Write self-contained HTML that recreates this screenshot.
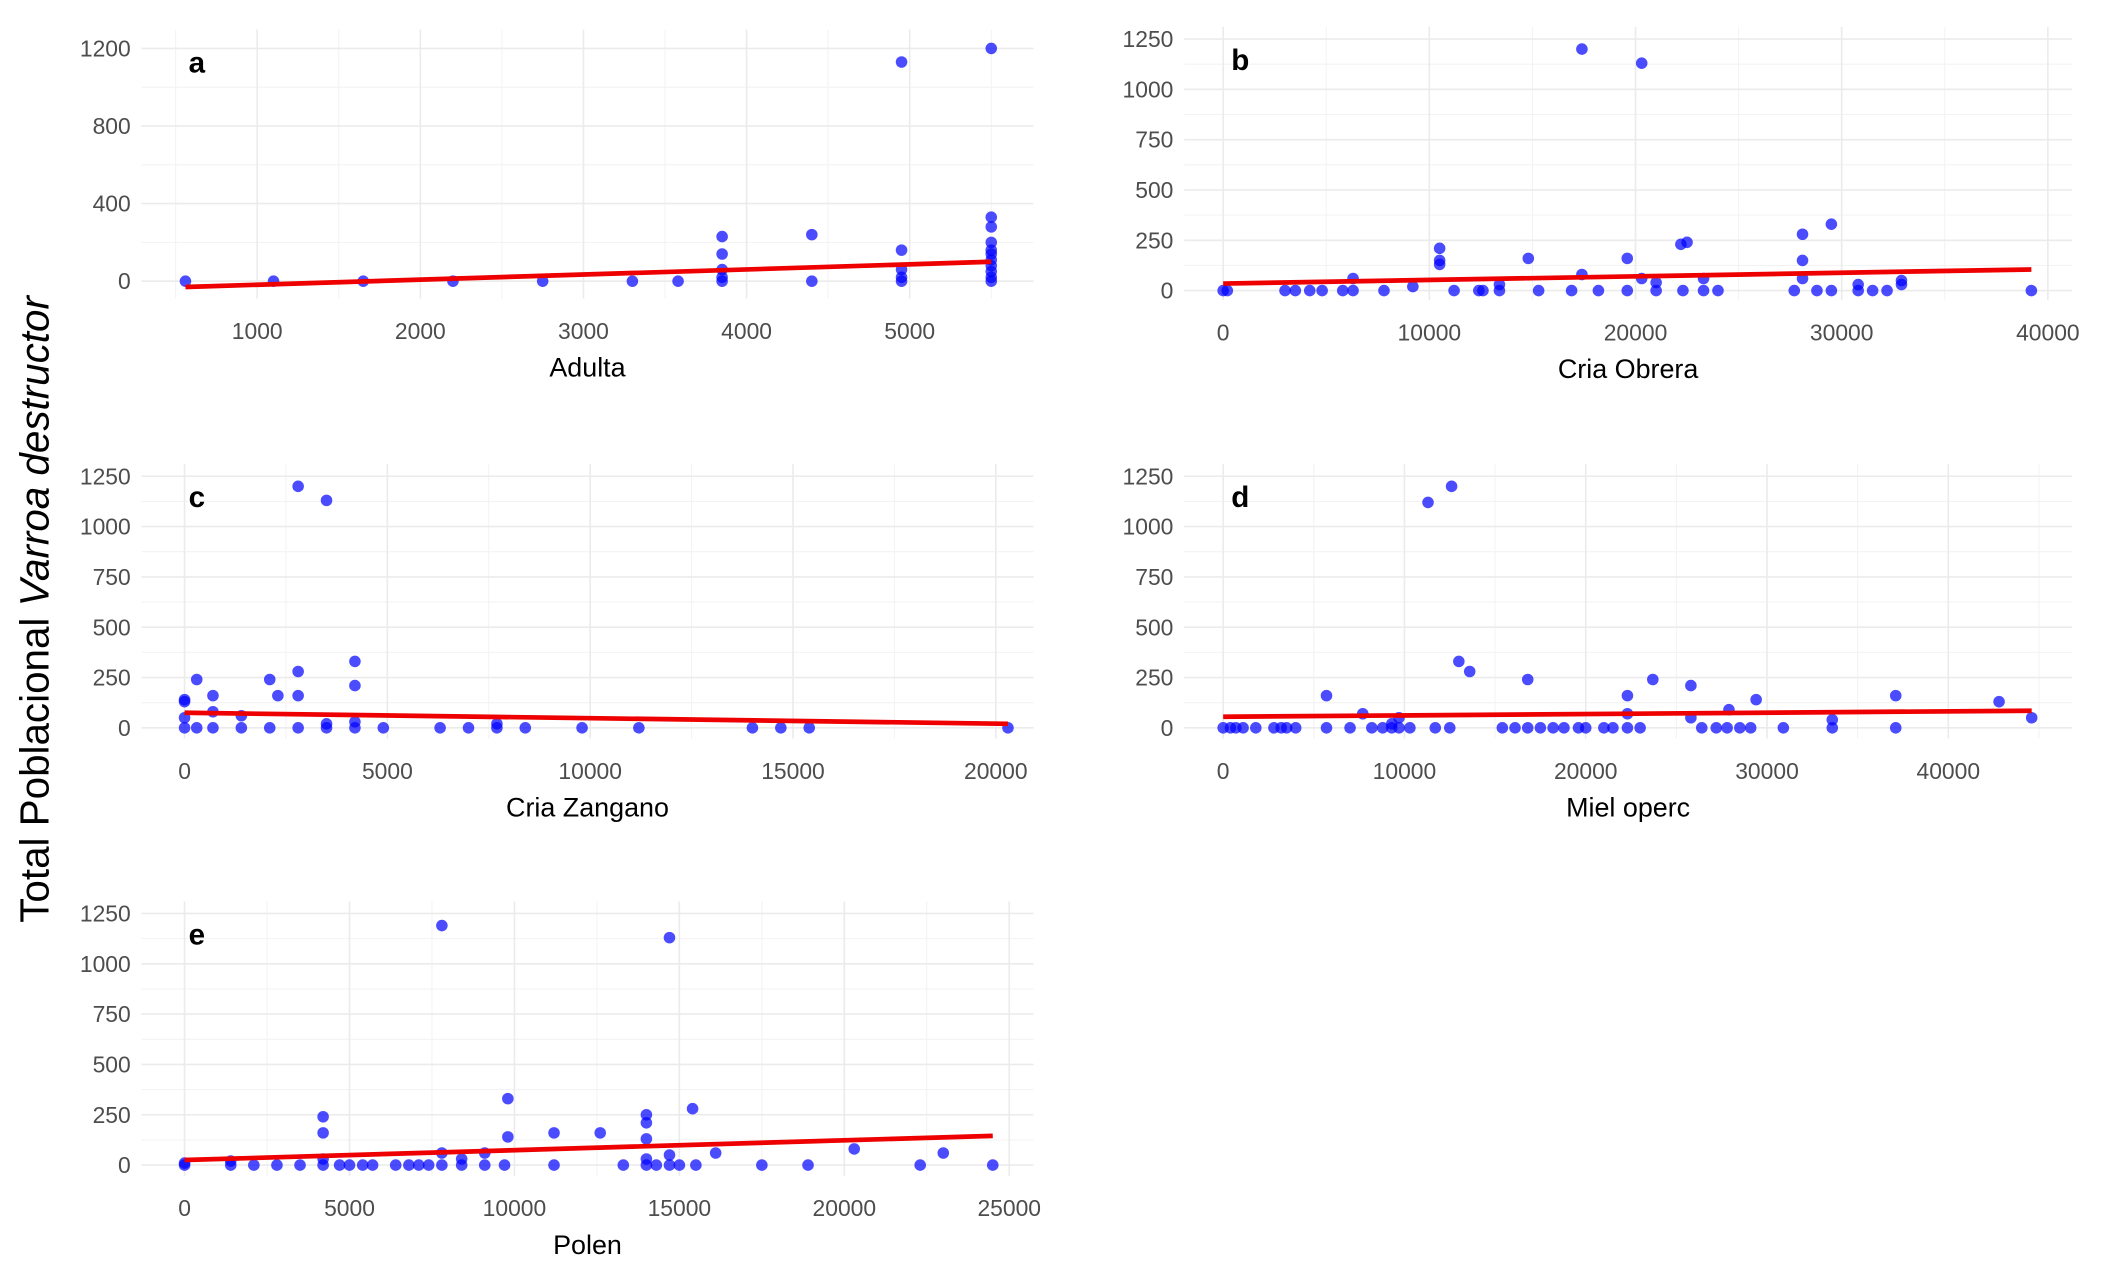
<!DOCTYPE html>
<html><head><meta charset="utf-8"><style>
html,body{margin:0;padding:0;background:#fff;}
svg{display:block;}
text{font-family:"Liberation Sans",sans-serif;}
</style></head><body>
<svg id="chart" width="2110" height="1270" viewBox="0 0 1568 944" xmlns="http://www.w3.org/2000/svg">
<text transform="translate(36,453) rotate(-90)" text-anchor="middle" font-size="30" fill="#000">Total Poblacional <tspan font-style="italic">Varroa destructor</tspan></text>
</svg>
<script>
// Panel a - Adulta
const aX=[560,1100,1650,2200,2750,3300,3580,3850,3850,3850,3850,3850,4400,4400,4950,4950,4950,4950,4950,5500,5500,5500,5500,5500,5500,5500,5500,5500,5500,5500];
const aY=[0,0,0,0,0,0,0,0,20,60,140,230,0,240,0,20,60,160,1130,0,20,50,80,110,140,160,200,280,330,1200];
const aFit=[[560,-30],[5500,100]];
// Panel b - Cria Obrera
const bX=[0,200,3000,3500,4200,4800,5800,6300,6300,7800,9200,10500,10500,10500,11200,12400,12600,13400,13400,14800,15300,16900,17400,17400,18200,19600,19600,20300,20300,21000,21000,22300,22200,22500,23300,23300,24000,27700,28100,28100,28100,28800,29500,29500,30800,30800,31500,32200,32900,32900,39200];
const bY=[0,0,0,0,0,0,0,0,60,0,20,130,150,210,0,0,0,0,30,160,0,0,80,1200,0,0,160,60,1130,0,40,0,230,240,0,60,0,0,60,150,280,0,0,330,0,30,0,0,30,50,0];
const bFit=[[0,35],[39200,105]];
// Panel c - Cria Zangano
const cX=[0,0,0,0,300,300,700,700,700,1400,1400,2100,2100,2300,2800,2800,2800,2800,3500,3500,3500,4200,4200,4200,4200,4900,6300,7000,7700,7700,8400,9800,11200,14000,14700,15400,20300];
const cY=[0,50,130,140,240,0,0,80,160,0,60,0,240,160,280,160,1200,0,0,20,1130,0,210,330,30,0,0,0,0,20,0,0,0,0,0,0,0];
const cFit=[[0,75],[20300,20]];
// Panel d - Miel operc
const dX=[0,400,700,1100,1800,2800,3200,3500,4000,5700,7000,8200,8800,9300,9300,9700,10300,11700,12500,15400,16100,16800,17500,18200,18800,19600,20000,21000,21500,22300,23000,26400,27200,27800,28500,29100,30900,33600,37100,5700,7700,9700,11300,12600,13000,13600,16800,22300,22300,23700,25800,25800,27900,29400,33600,37100,42800,44600];
const dY=[0,0,0,0,0,0,0,0,0,0,0,0,0,0,20,0,0,0,0,0,0,0,0,0,0,0,0,0,0,0,0,0,0,0,0,0,0,0,0,160,70,50,1120,1200,330,280,240,160,70,240,210,50,90,140,40,160,130,50];
const dFit=[[0,55],[44600,85]];
// Panel e - Polen
const eX=[0,1400,2100,2800,3500,4200,4700,5000,5400,5700,6400,6800,7100,7400,7800,8400,9100,9700,11200,13300,14000,14300,14700,15000,15500,17500,18900,22300,24500,0,1400,4200,4200,4200,7800,7800,8400,9100,9800,9800,11200,12600,14000,14000,14000,14000,14700,14700,15400,16100,20300,23000];
const eY=[0,0,0,0,0,0,0,0,0,0,0,0,0,0,0,0,0,0,0,0,0,0,0,0,0,0,0,0,0,10,20,30,160,240,60,1190,30,60,140,330,160,160,250,210,130,30,50,1130,280,60,80,60];
const eFit=[[0,25],[24500,145]];
const aXT=[1000,2000,3000,4000,5000], aYT=[0,400,800,1200];
const bXT=[0,10000,20000,30000,40000], bYT=[0,250,500,750,1000,1250];
const cXT=[0,5000,10000,15000,20000], dXT=[0,10000,20000,30000,40000], eXT=[0,5000,10000,15000,20000,25000];

const NS='http://www.w3.org/2000/svg';
const svg=document.getElementById('chart');
function mk(tag,attrs,parent){const e=document.createElementNS(NS,tag);for(const k in attrs)e.setAttribute(k,attrs[k]);(parent||svg).appendChild(e);return e;}

function panel(id,letter,title,X,Y,fit,xt,yt,box,xmap,ymap){
  const g=mk('g',{});
  
  
  const sx=v=>xmap[1]+(v-xmap[0])*(xmap[3]-xmap[1])/(xmap[2]-xmap[0]);
  const sy=v=>ymap[1]+(v-ymap[0])*(ymap[3]-ymap[1])/(ymap[2]-ymap[0]);
  const xs=xt[1]-xt[0], ys=yt[1]-yt[0];
  for(let v=xt[0]-xs/2; v<=xt[xt.length-1]+xs/2; v+=xs){const p=sx(v); if(p<box[0]||p>box[2])continue; mk('line',{x1:p,x2:p,y1:box[1],y2:box[3],stroke:'#f3f3f3','stroke-width':0.8},g);}
  for(let v=yt[0]-ys/2; v<=yt[yt.length-1]+ys/2; v+=ys){const p=sy(v); if(p<box[1]||p>box[3])continue; mk('line',{x1:box[0],x2:box[2],y1:p,y2:p,stroke:'#f3f3f3','stroke-width':0.8},g);}
  xt.forEach(v=>{const p=sx(v);mk('line',{x1:p,x2:p,y1:box[1],y2:box[3],stroke:'#ebebeb','stroke-width':1.2},g);
    const t=mk('text',{x:p,y:box[3]+30,'text-anchor':'middle','font-size':17,fill:'#4d4d4d'},g);t.textContent=v;
    
    });
  yt.forEach(v=>{const p=sy(v);mk('line',{x1:box[0],x2:box[2],y1:p,y2:p,stroke:'#ebebeb','stroke-width':1.2},g);
    const t=mk('text',{x:box[0]-8,y:p+6,'text-anchor':'end','font-size':17,fill:'#4d4d4d'},g);t.textContent=v;
    
    });
  X.forEach((x,i)=>{const c=mk('circle',{cx:sx(x),cy:sy(Y[i]),r:4.3,fill:'#0000ff','fill-opacity':0.7},g);
    
    });
  const l=mk('line',{x1:sx(fit[0][0]),y1:sy(fit[0][1]),x2:sx(fit[1][0]),y2:sy(fit[1][1]),stroke:'#ee0000','stroke-width':3.5},g);
  
  
  const lt=mk('text',{x:box[0]+35,y:box[1]+32,'font-size':22,'font-weight':'bold',fill:'#000'},g);lt.textContent=letter;
  
  
  const tt=mk('text',{x:(box[0]+box[2])/2,y:box[3]+58,'text-anchor':'middle','font-size':20,fill:'#000'},g);tt.textContent=title;
  
  
}
panel('a','a','Adulta',aX,aY,aFit,aXT,aYT,[105,22,768,222],[1000,191,5000,676],[0,209,1200,36]);
panel('b','b','Cria Obrera',bX,bY,bFit,bXT,bYT,[880,20,1540,223],[0,909,40000,1522],[0,216,1250,29]);
panel('c','c','Cria Zangano',cX,cY,cFit,cXT,bYT,[105,345,768,549],[0,137,20000,740],[0,541,1250,354]);
panel('d','d','Miel operc',dX,dY,dFit,dXT,bYT,[880,345,1540,549],[0,909,40000,1448],[0,541,1250,354]);
panel('e','e','Polen',eX,eY,eFit,eXT,bYT,[105,670,768,874],[0,137,25000,750],[0,866,1250,679]);
</script>
</body></html>
